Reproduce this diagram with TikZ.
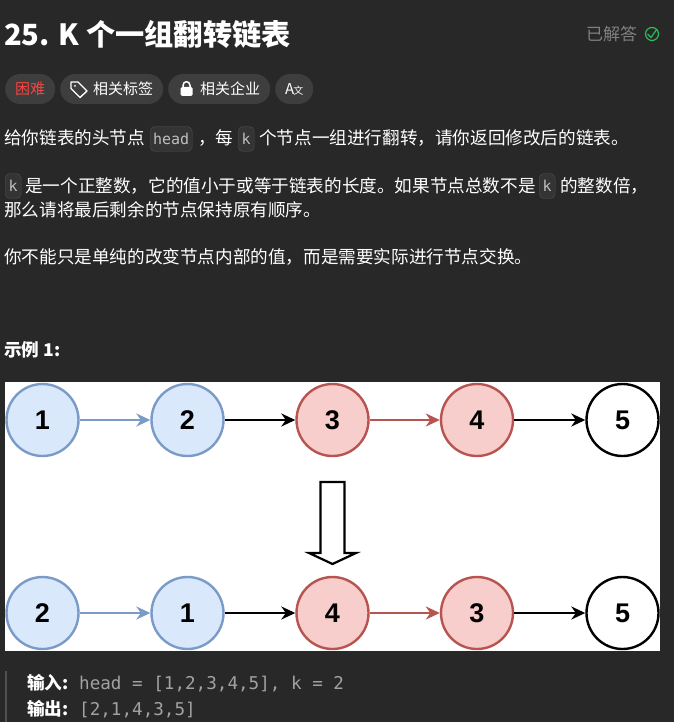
\documentclass[tikz,border=0pt]{standalone}
\usepackage{fontspec}
\setmainfont{Noto Sans CJK SC}
\newfontfamily\digitfont{Liberation Sans}
\newfontfamily\codefont{DejaVu Sans Mono}
\usetikzlibrary{arrows.meta}
\definecolor{pagebg}{HTML}{282828}
\definecolor{pillbg}{HTML}{3E3E3E}
\definecolor{codebg}{HTML}{343434}
\definecolor{codeedge}{HTML}{505050}
\definecolor{bluefill}{HTML}{DAE8FC}
\definecolor{blueedge}{HTML}{7A9BC8}
\definecolor{redfill}{HTML}{F8CECC}
\definecolor{rededge}{HTML}{B85450}
\definecolor{hardred}{HTML}{EF4743}
\definecolor{donegreen}{HTML}{2CBB5D}
\tikzset{
  txt/.style={anchor=base west,inner sep=0pt,text=white,font=\fontsize{17.6}{20}\selectfont},
  pill/.style={draw=none,fill=pillbg,rounded corners=15pt,minimum height=30pt,inner sep=0pt,anchor=west},
  codebox/.style={draw=codeedge,fill=codebg,rounded corners=5pt,minimum height=25pt,inner sep=0pt,anchor=west,text=lightgray,font=\codefont\fontsize{15}{18}\selectfont},
  listnode/.style={circle,minimum size=72pt,inner sep=0pt,line width=2.4pt,text=black,font=\digitfont\bfseries\fontsize{27}{30}\selectfont},
  bluenode/.style={listnode,draw=blueedge,fill=bluefill},
  rednode/.style={listnode,draw=rededge,fill=redfill},
  plainnode/.style={listnode,draw=black,fill=white},
  link/.style={line width=2.4pt,-{Stealth[length=14pt,width=13pt]}},
}
\begin{document}
\begin{tikzpicture}[x=1pt,y=-1pt]
\useasboundingbox[fill=pagebg] (0,0) rectangle (674,722);
% heading
\node[txt,font=\bfseries\fontsize{29.2}{32}\selectfont] (title) at (4,46) {25. K 个一组翻转链表};
\node[txt,text=gray,font=\fontsize{17}{20}\selectfont] (done) at (586,41) {已解答};
\node[circle,draw=donegreen,line width=1.2pt,minimum size=13pt,inner sep=0pt] (doneicon) at (652,34) {};
\draw[donegreen,line width=1.2pt] (647.5,34) -- (651,37.5) -- (657,29);
% tags
\node[pill,minimum width=50pt,text=hardred,font=\fontsize{15}{18}\selectfont] (hard) at (5,89) {困难};
\node[pill,minimum width=103pt] (tagpill) at (60,89) {};
\node[txt,font=\fontsize{15}{18}\selectfont] (taglabel) at (93,94.5) {相关标签};
\draw[white,line width=1.4pt,line join=round] (71,82) -- (78,82) -- (87,91) -- (80,97.5) -- (71,88.5) -- cycle;
\fill[white] (75,86) circle[radius=1pt];
\node[pill,minimum width=102pt] (lockpill) at (168,89) {};
\node[txt,font=\fontsize{15}{18}\selectfont] (locklabel) at (200,94.5) {相关企业};
\fill[white,rounded corners=1.5pt] (180.5,87) rectangle (192.5,96);
\draw[white,line width=1.5pt] (183,88) -- (183,85.5) .. controls (183,80.5) and (190,80.5) .. (190,85.5) -- (190,88);
\node[pill,minimum width=38pt,text=white,font=\fontsize{15}{18}\selectfont] (langpill) at (275,89) {A\hspace{-1pt}\fontsize{10}{10}\selectfont 文};
% description
\node[txt] (lineA) at (4,145) {给你链表的头节点};
\node[codebox,minimum width=42pt] (head) at (150,139) {head};
\node[txt] (lineB) at (198,145) {，每};
\node[codebox,minimum width=16pt] (kA) at (238,139) {k};
\node[txt] (lineC) at (259,145) {个节点一组进行翻转，请你返回修改后的链表。};
\node[codebox,minimum width=16pt] (kB) at (5,186) {k};
\node[txt] (lineD) at (25,192) {是一个正整数，它的值小于或等于链表的长度。如果节点总数不是};
\node[codebox,minimum width=16pt] (kC) at (539,186) {k};
\node[txt] (lineE) at (560,192) {的整数倍，};
\node[txt] (lineF) at (4,216) {那么请将最后剩余的节点保持原有顺序。};
\node[txt] (lineG) at (4,263) {你不能只是单纯的改变节点内部的值，而是需要实际进行节点交换。};
\node[txt,font=\bfseries\fontsize{17.6}{20}\selectfont] (example) at (4,356) {示例 1:};
% picture
\fill[white] (5,382) rectangle (660,651);
\foreach \nm/\x/\val/\sty in {a/42.5/1/bluenode,b/187.5/2/bluenode,c/332.5/3/rednode,d/477/4/rednode,e/622.5/5/plainnode}
  \node[\sty] (top\nm) at (\x,420) {\val};
\foreach \nm/\x/\val/\sty in {a/42.5/2/bluenode,b/187.5/1/bluenode,c/332.5/4/rednode,d/477/3/rednode,e/622.5/5/plainnode}
  \node[\sty] (low\nm) at (\x,613) {\val};
\foreach \row in {top,low}{
  \draw[link,blueedge] (\row a) -- (\row b);
  \draw[link,black] (\row b) -- (\row c);
  \draw[link,rededge] (\row c) -- (\row d);
  \draw[link,black] (\row d) -- (\row e);
}
\draw[line width=2.2pt,black,fill=white,line join=miter] (320.5,482) -- (344.5,482) -- (344.5,553) -- (356,553) -- (332.5,564) -- (309,553) -- (320.5,553) -- cycle;
% result
\fill[codeedge] (5,671) rectangle (7,722);
\node[txt,font=\bfseries\fontsize{17.6}{20}\selectfont] (inlabel) at (27,689) {输入:};
\node[txt,text=lightgray!85!black,font=\codefont\fontsize{17.6}{20}\selectfont] (invalue) at (79,689) {head = [1,2,3,4,5], k = 2};
\node[txt,font=\bfseries\fontsize{17.6}{20}\selectfont] (outlabel) at (27,715) {输出:};
\node[txt,text=lightgray!85!black,font=\codefont\fontsize{17.6}{20}\selectfont] (outvalue) at (79,715) {[2,1,4,3,5]};
\end{tikzpicture}
\end{document}
